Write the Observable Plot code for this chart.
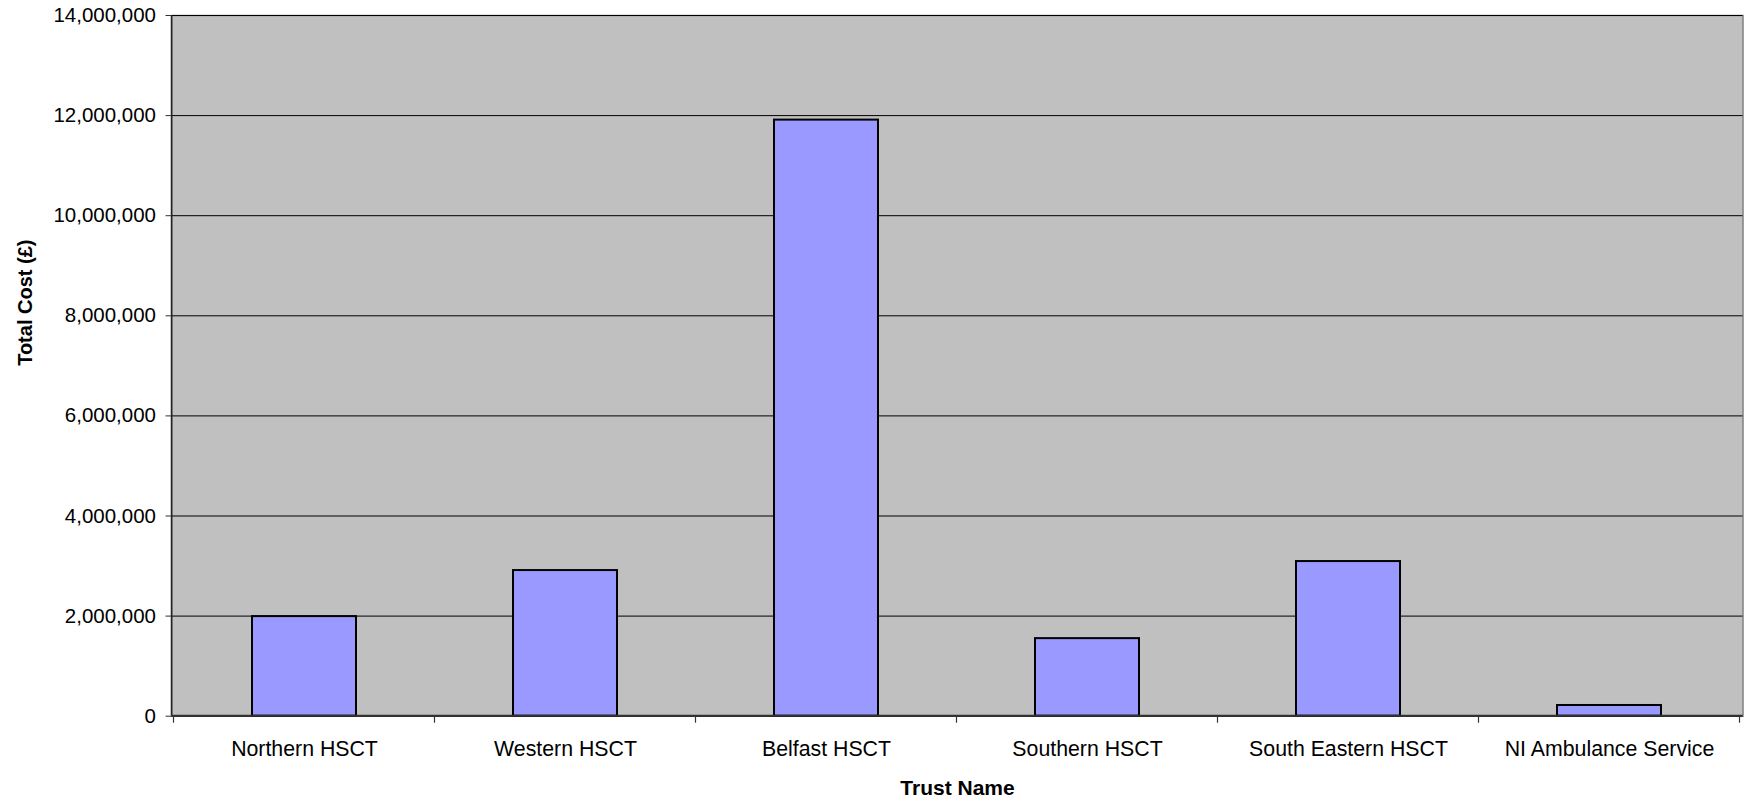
<!DOCTYPE html>
<html>
<head>
<meta charset="utf-8">
<script src="https://cdn.jsdelivr.net/npm/d3@7"></script>
<script src="https://cdn.jsdelivr.net/npm/@observablehq/plot@0.6"></script>
<style>
  html, body { margin: 0; padding: 0; background: #ffffff; }
  #chart svg { display: block; }
</style>
</head>
<body>
<div id="chart"></div>
<script>
const trusts = ["Northern HSCT", "Western HSCT", "Belfast HSCT", "Southern HSCT", "South Eastern HSCT", "NI Ambulance Service"];
const totalCost = [1990000, 2910000, 11910000, 1550000, 3090000, 214000];
const yTicks = [0, 2000000, 4000000, 6000000, 8000000, 10000000, 12000000, 14000000];
const xTitle = "Trust Name";
const yTitle = "Total Cost (£)";

const data = trusts.map((t, i) => ({trust: t, cost: totalCost[i]}));
const font = "'Liberation Sans', Arial, sans-serif";

// boundary ticks + left/bottom axis lines, drawn from the band scale
function bandFrame(index, scales, values, dims) {
  const x = scales.x;
  const bw = typeof x.bandwidth === "function" ? x.bandwidth() : x.bandwidth;
  const step = x(trusts[1]) - x(trusts[0]);
  const pad = (step - bw) / 2;
  const g = d3.create("svg:g");
  const y0 = scales.y(0);
  const bounds = trusts.map(t => x(t) - pad).concat([x(trusts[trusts.length - 1]) + bw + pad]);
  g.selectAll("line.t").data(bounds).join("line")
    .attr("x1", d => d).attr("x2", d => d)
    .attr("y1", y0).attr("y2", y0 + 7)
    .attr("stroke", "#333").attr("stroke-width", 1.2);
  g.append("line")
    .attr("x1", dims.marginLeft).attr("x2", dims.marginLeft)
    .attr("y1", dims.marginTop).attr("y2", y0)
    .attr("stroke", "#222").attr("stroke-width", 1.5);
  g.append("line")
    .attr("x1", dims.marginLeft).attr("x2", dims.width - dims.marginRight)
    .attr("y1", y0).attr("y2", y0)
    .attr("stroke", "#333").attr("stroke-width", 2);
  return g.node();
}

const chart = Plot.plot({
  width: 1746,
  height: 799,
  marginLeft: 171.5,
  marginRight: 3.5,
  marginTop: 15,
  marginBottom: 83.3,
  style: {fontFamily: font, fontSize: "20px", color: "#000", background: "#fff"},
  x: {domain: trusts, paddingInner: 0.6, paddingOuter: 0.3, label: null},
  y: {domain: [0, 14000000], label: null},
  marks: [
    Plot.frame({fill: "#c0c0c0", stroke: "#808080", strokeWidth: 1.5}),
    Plot.gridY(yTicks, {stroke: "#000", strokeOpacity: 1, strokeWidth: 1}),
    Plot.barY(data, {x: "trust", y: "cost", fill: "#9999ff", stroke: "#000", strokeWidth: 2}),
    bandFrame,
    Plot.axisY(yTicks, {
      tickFormat: d3.format(","), tickSize: 6, tickPadding: 10,
      stroke: "#333", fontSize: 20.5, label: null
    }),
    Plot.axisX({tickSize: 0, tickPadding: 25, fontSize: 21.3, label: null}),
    Plot.text([xTitle], {
      text: d => d, frameAnchor: "bottom", dy: 72, lineAnchor: "middle",
      fontWeight: "bold", fontSize: 21, letterSpacing: "0.06em"
    }),
    Plot.text([yTitle], {
      text: d => d, frameAnchor: "left", dx: -146.5, rotate: -90, lineAnchor: "middle",
      fontWeight: "bold", fontSize: 20
    })
  ]
});
document.getElementById("chart").appendChild(chart);
</script>
</body>
</html>
